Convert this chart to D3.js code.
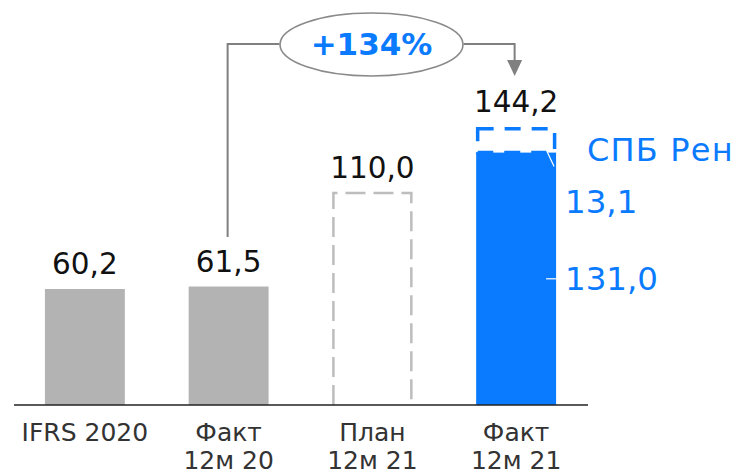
<!DOCTYPE html>
<html>
<head>
<meta charset="utf-8" />
<style>
body { margin: 0; background: #fff; }
svg { display: block; font-family: "DejaVu Sans", "Noto Sans", sans-serif; }
</style>
<script src="https://cdnjs.cloudflare.com/ajax/libs/d3/7.8.5/d3.min.js"></script>
</head>
<body>
<div id="chart"></div>
<script>
const categories = ["IFRS 2020", "Факт 12м 20", "План 12м 21", "Факт 12м 21"];
const catLine1 = ["IFRS 2020", "Факт", "План", "Факт"];
const catLine2 = ["", "12м 20", "12м 21", "12м 21"];
const values = [60.2, 61.5, 110.0, 144.2];
const valueLabels = ["60,2", "61,5", "110,0", "144,2"];
const barKinds = ["grey", "grey", "plan", "stack"];
// stacked parts of the last bar
const stackParts = [131.0, 13.1];
const stackLabels = ["131,0", "13,1"];
const stackName = "СПБ Рен";
const growthLabel = "+134%";

const W = 736, H = 475;
const blue = "#0a7bff", grey = "#b3b3b3";

const svg = d3.select("#chart").append("svg")
  .attr("width", W).attr("height", H);

const x = d3.scaleBand()
  .domain(categories)
  .range([13, 588])
  .paddingInner(0.444)
  .paddingOuter(0.222);

const y = d3.scaleLinear()
  .domain([0, 150])
  .range([405, 116]);

const bw = x.bandwidth();

// grey bars
svg.selectAll(".bar")
  .data(categories.filter((c, i) => barKinds[i] === "grey"))
  .enter().append("rect")
  .attr("x", d => x(d))
  .attr("y", d => y(values[categories.indexOf(d)]))
  .attr("width", bw)
  .attr("height", d => y(0) - y(values[categories.indexOf(d)]))
  .attr("fill", grey);

// plan bar (dashed outline)
svg.append("path")
  .attr("d", "M" + (x(categories[2]) + 1) + "," + y(0) +
       "V" + y(values[2]) + "H" + (x(categories[2]) + bw - 1) + "V" + y(0))
  .attr("fill", "none")
  .attr("stroke", "#bdbdbd")
  .attr("stroke-width", 2.5)
  .attr("stroke-dasharray", "20,8");

// stacked bar
const sx = x(categories[3]);
svg.append("rect")
  .attr("x", sx).attr("y", y(stackParts[0]))
  .attr("width", bw).attr("height", y(0) - y(stackParts[0]))
  .attr("fill", blue);

svg.append("rect")
  .attr("x", sx + 1.5).attr("y", y(stackParts[0] + stackParts[1]) + 1.5)
  .attr("width", bw - 3).attr("height", y(stackParts[0]) - y(stackParts[0] + stackParts[1]) - 1.5)
  .attr("fill", "none")
  .attr("stroke", blue)
  .attr("stroke-width", 3.5)
  .attr("stroke-dasharray", "16,11");

// leader lines (white on blue)
svg.append("line")
  .attr("x1", sx + bw - 10).attr("y1", y(stackParts[0]) - 3)
  .attr("x2", sx + bw - 2).attr("y2", y(stackParts[0]) + 14)
  .attr("stroke", "#fff").attr("stroke-width", 1.2);
svg.append("line")
  .attr("x1", sx + bw - 10).attr("y1", y(stackParts[0] / 2))
  .attr("x2", sx + bw).attr("y2", y(stackParts[0] / 2))
  .attr("stroke", "#fff").attr("stroke-width", 1.2);

// axis baseline
svg.append("line")
  .attr("x1", 14).attr("x2", 588)
  .attr("y1", y(0)).attr("y2", y(0))
  .attr("stroke", "#222").attr("stroke-width", 1.5);

// value labels
svg.selectAll(".val")
  .data(categories)
  .enter().append("text")
  .attr("x", d => x(d) + bw / 2)
  .attr("y", (d, i) => y(values[i]) - 15)
  .attr("text-anchor", "middle")
  .attr("font-size", 29.5)
  .attr("fill", "#111")
  .text((d, i) => valueLabels[i]);

// category labels
const cat = svg.selectAll(".cat")
  .data(categories)
  .enter().append("text")
  .attr("text-anchor", "middle")
  .attr("font-size", 25)
  .attr("fill", "#333");
cat.append("tspan")
  .attr("x", d => x(d) + bw / 2).attr("y", 441)
  .text((d, i) => catLine1[i]);
cat.append("tspan")
  .attr("x", d => x(d) + bw / 2).attr("y", 469)
  .text((d, i) => catLine2[i]);

// stack labels on the right
svg.append("text")
  .attr("x", 587).attr("y", y(stackParts[0] + stackParts[1]) + 34)
  .attr("font-size", 32).attr("letter-spacing", 1.2).attr("fill", blue)
  .text(stackName);
svg.append("text")
  .attr("x", 565).attr("y", y(stackParts[0]) + 60)
  .attr("font-size", 32.5).attr("fill", blue)
  .text(stackLabels[1]);
svg.append("text")
  .attr("x", 565).attr("y", y(stackParts[0] / 2) + 11)
  .attr("font-size", 32.5).attr("fill", blue)
  .text(stackLabels[0]);

// growth arrow
const fromX = x(categories[1]) + bw / 2 - 1;
const toX = sx + bw / 2 - 1.5;
const topY = 44;
const ex = 371.5;
const arrowColor = "#808080";

svg.append("path")
  .attr("d", "M" + fromX + "," + 237 + "V" + topY + "H" + (ex - 92))
  .attr("fill", "none").attr("stroke", arrowColor).attr("stroke-width", 2);
svg.append("path")
  .attr("d", "M" + (ex + 92) + "," + topY + "H" + toX + "V" + 60)
  .attr("fill", "none").attr("stroke", arrowColor).attr("stroke-width", 2);
svg.append("path")
  .attr("d", "M" + (toX - 7.5) + ",60L" + (toX + 7.5) + ",60L" + toX + ",76Z")
  .attr("fill", arrowColor);

svg.append("ellipse")
  .attr("cx", ex).attr("cy", topY + 0.5)
  .attr("rx", 91.5).attr("ry", 31.5)
  .attr("fill", "#fff")
  .attr("stroke", "#8a8a8a").attr("stroke-width", 1.6);

svg.append("text")
  .attr("x", ex).attr("y", 55)
  .attr("text-anchor", "middle")
  .attr("font-size", 31).attr("font-weight", "bold")
  .attr("fill", blue)
  .text(growthLabel);
</script>
</body>
</html>
